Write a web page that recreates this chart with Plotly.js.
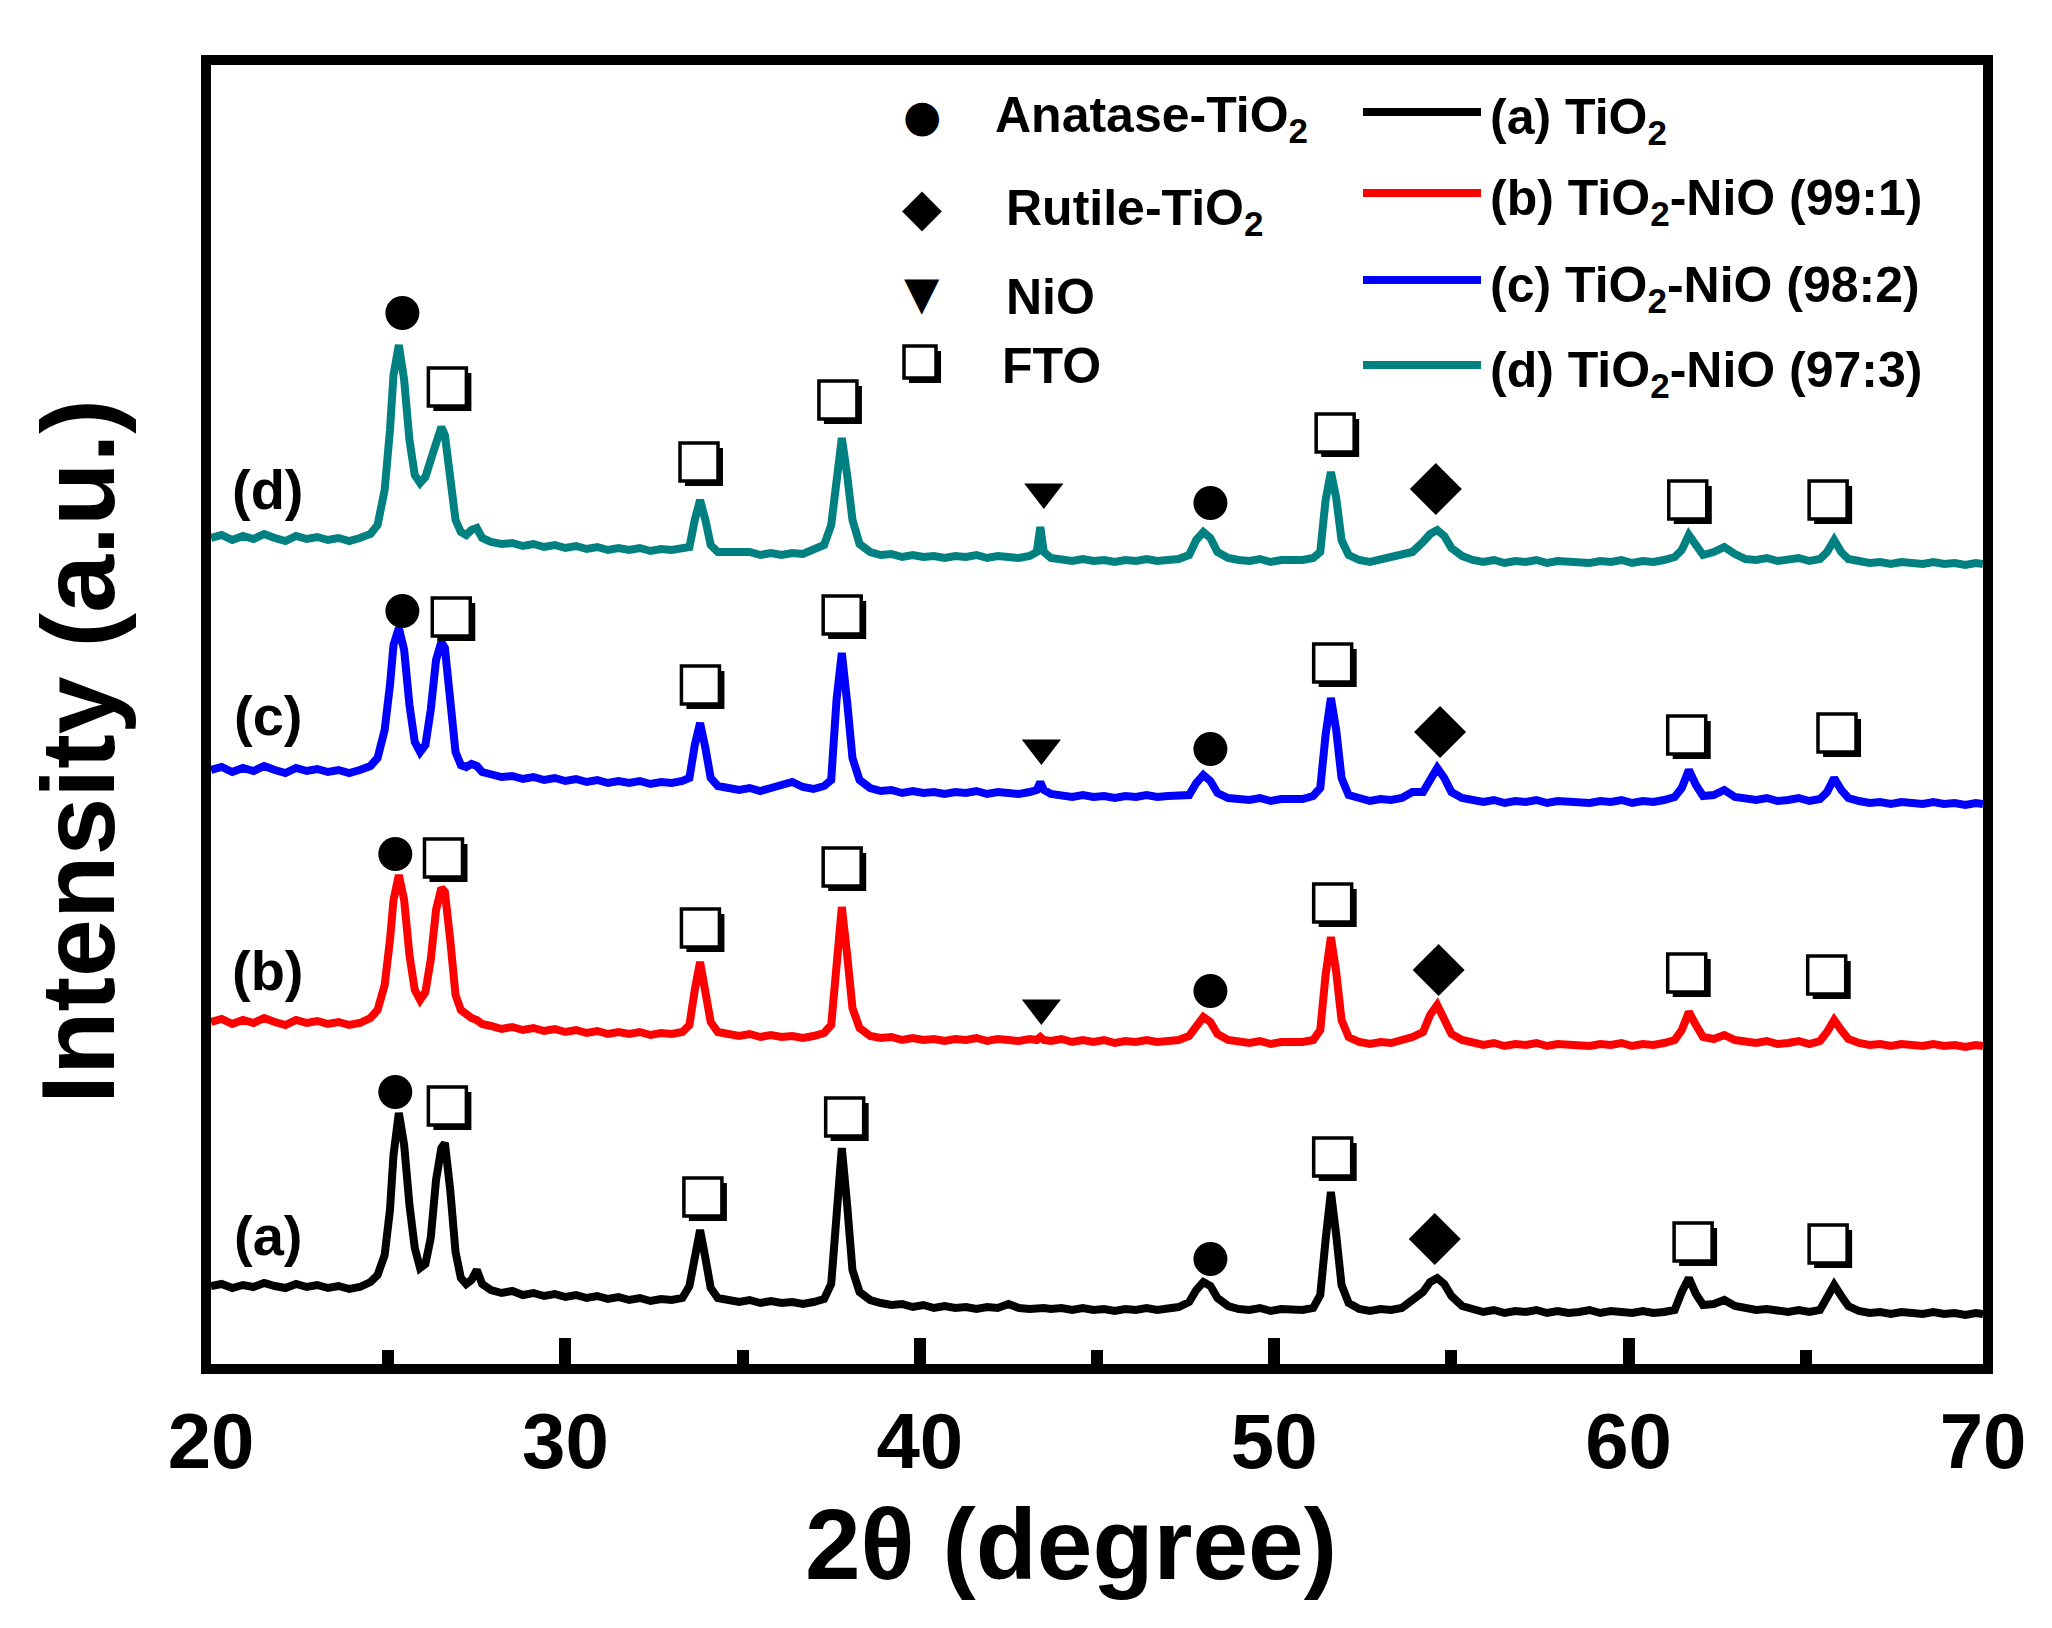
<!DOCTYPE html>
<html>
<head>
<meta charset="utf-8">
<script src="https://cdn.plot.ly/plotly-3.0.1.min.js"></script>
<style>
  html, body { margin: 0; padding: 0; background: #ffffff; }
  #xrdPlot { width: 2052px; height: 1628px; }
</style>
</head>
<body>
<div id="xrdPlot"></div>
<script>
// 2theta grid (degree), denser around the reflections
let twoTheta = [
  20.0, 20.3, 20.6, 20.9, 21.2, 21.5, 21.8, 22.1, 22.4, 22.7, 23.0, 23.3, 23.6, 23.9, 24.2, 24.5,
  24.7, 24.9, 25.05, 25.15, 25.3, 25.45, 25.6, 25.75, 25.9, 26.05, 26.2, 26.35, 26.5, 26.6, 26.75, 26.9, 27.05, 27.2, 27.35, 27.5, 27.65,
  27.9, 28.2, 28.5, 28.8, 29.1, 29.4, 29.7, 30.0, 30.3, 30.6, 30.9, 31.2, 31.5, 31.8, 32.1, 32.4, 32.7, 33.0, 33.3,
  33.5, 33.65, 33.8, 33.95, 34.1, 34.3,
  34.6, 34.9, 35.2, 35.5, 35.8, 36.1, 36.4, 36.7, 37.0, 37.3,
  37.5, 37.65, 37.8, 37.95, 38.1, 38.3,
  38.6, 38.9, 39.2, 39.5, 39.8, 40.1, 40.4, 40.7, 41.0, 41.3, 41.6, 41.9, 42.2, 42.5, 42.8, 43.1,
  43.3, 43.4, 43.5,
  43.7, 44.0, 44.3, 44.6, 44.9, 45.2, 45.5, 45.8, 46.1, 46.4, 46.7, 47.0, 47.3,
  47.6, 47.8, 48.0, 48.2, 48.4, 48.7,
  49.0, 49.3, 49.6, 49.9, 50.2, 50.5, 50.8, 51.1,
  51.3, 51.45, 51.6, 51.75, 51.9, 52.1,
  52.4, 52.7, 53.0, 53.3, 53.6, 53.9,
  54.2, 54.4, 54.6, 54.8, 55.0, 55.3,
  55.6, 55.9, 56.2, 56.5, 56.8, 57.1, 57.4, 57.7, 58.0, 58.3, 58.6, 58.9, 59.2, 59.5, 59.8, 60.1, 60.4, 60.7, 61.0, 61.3,
  61.5, 61.7, 61.9, 62.1,
  62.4, 62.7, 63.0, 63.3, 63.6, 63.9, 64.2, 64.5, 64.8, 65.1, 65.4,
  65.6, 65.8, 66.0, 66.2,
  66.5, 66.8, 67.1, 67.4, 67.7, 68.0, 68.3, 68.6, 68.9, 69.2, 69.5, 69.8, 70.0,
];

// stacked intensities (a.u.)
let int_a = [
  84, 86, 82, 85, 83, 87, 84, 82, 86, 83, 85, 82, 84, 81, 83, 88,
  95, 115, 160, 215, 257, 225, 165, 122, 102, 106, 132, 190, 222, 227, 180, 118, 92, 86, 90, 100, 86,
  80, 77, 79, 75, 77, 74, 76, 73, 75, 72, 74, 71, 73, 70, 72, 69, 71, 70, 72,
  84, 115, 140, 112, 82, 72,
  70, 68, 70, 67, 69, 67, 68, 66, 68, 71,
  86, 160, 222, 165, 100, 78,
  70, 67, 65, 66, 63, 65, 62, 64, 62, 63, 61, 63, 62, 66, 62, 61,
  62, 63, 62,
  61, 62, 60, 62, 60, 61, 59, 61, 60, 62, 60, 61, 63,
  68, 80, 88, 84, 72, 64,
  61, 60, 62, 59, 61, 60, 60, 62,
  75, 130, 178, 135, 85, 67,
  61, 59, 61, 60, 62, 70,
  78, 88, 92, 86, 74, 64,
  60, 58, 60, 57, 59, 58, 60, 57, 59, 57, 58, 60, 57, 59, 58, 57, 59, 57, 58, 60,
  78, 92, 76, 65,
  66, 70, 64, 62, 60, 61, 59, 58, 60, 58, 60,
  72, 85, 74, 64,
  59, 57, 58, 56, 58, 57, 56, 58, 56, 57, 55, 57, 56,
];

let int_b = [
  348, 351, 346, 350, 347, 352, 348, 345, 350, 347, 349, 346, 348, 345, 347, 352,
  360, 385, 430, 470, 495, 470, 415, 380, 370, 378, 410, 460, 482, 478, 430, 375, 360, 355, 352, 350, 346,
  344, 341, 343, 340, 342, 339, 341, 338, 340, 337, 339, 336, 338, 336, 338, 335, 337, 336, 338,
  345, 380, 408, 378, 348, 338,
  336, 334, 336, 333, 335, 333, 334, 332, 334, 337,
  345, 410, 463, 415, 362, 342,
  334, 332, 333, 330, 332, 330, 331, 329, 331, 330, 332, 329, 331, 330, 329, 331,
  330, 333, 330,
  329, 331, 328, 330, 328, 330, 327, 329, 328, 330, 328, 329, 330,
  334, 345, 353, 348, 336, 330,
  328, 327, 329, 326, 328, 327, 328, 330,
  340, 395, 433, 398, 350, 333,
  328, 326, 328, 327, 329, 333,
  338, 355, 365, 352, 336, 330,
  327, 325, 327, 324, 326, 325, 327, 324, 326, 325, 326, 324, 326, 325, 327, 324, 326, 325, 327, 330,
  340, 358, 345, 333,
  331, 335, 330, 328, 327, 329, 326, 327, 329, 326, 329,
  338, 350, 340, 331,
  327, 325, 326, 324, 326, 325, 324, 326, 324, 325, 323, 325, 324,
];

let int_c = [
  600, 603, 598, 602, 599, 604, 600, 597, 602, 599, 601, 598, 600, 597, 600, 604,
  612, 640, 685, 725, 742, 720, 665, 628, 618, 625, 660, 710, 728, 722, 670, 618, 605, 603, 606, 604, 598,
  595, 593, 594, 591, 593, 590, 592, 589, 591, 588, 590, 587, 589, 587, 589, 586, 588, 587, 589,
  592, 625, 647, 622, 592, 584,
  582, 580, 582, 579, 582, 586, 588, 583, 581, 584,
  590, 670, 717, 668, 612, 590,
  582, 579, 580, 577, 579, 577, 578, 576, 578, 577, 579, 576, 578, 577, 576, 578,
  580, 588, 580,
  576, 575, 573, 575, 573, 574, 572, 574, 573, 575, 573, 574, 575,
  575, 587, 595, 589, 577, 572,
  571, 570, 572, 569, 571, 570, 571, 574,
  582, 635, 672, 640, 592, 575,
  571, 569, 571, 570, 572, 578,
  578, 592, 602, 592, 578, 572,
  570, 568, 570, 567, 569, 568, 570, 567, 569, 568, 569, 567, 569, 568, 570, 567, 569, 568, 570, 573,
  582, 600, 585, 574,
  575, 580, 573, 571, 570, 572, 569, 570, 572, 569, 571,
  578, 592, 580, 572,
  569, 567, 568, 566, 568, 567, 566, 568, 566, 567, 565, 567, 566,
];

let int_d = [
  832, 835, 830, 834, 831, 836, 832, 829, 834, 831, 833, 830, 832, 829, 832, 836,
  845, 880, 940, 995, 1025, 990, 930, 895, 887, 893, 910, 925, 943, 935, 890, 850, 838, 835, 840, 842, 832,
  828, 826, 827, 824, 826, 823, 825, 822, 824, 821, 823, 820, 822, 820, 822, 819, 821, 820, 822,
  823, 850, 870, 850, 825, 818,
  818, 816, 818, 815, 817, 815, 817, 816, 820, 825,
  845, 895, 932, 895, 850, 826,
  818, 815, 816, 813, 815, 813, 814, 812, 814, 813, 815, 812, 814, 813, 812, 814,
  818, 843, 818,
  812, 811, 809, 811, 809, 810, 808, 810, 809, 811, 809, 810, 811,
  815, 830, 838, 832, 818, 812,
  810, 809, 811, 808, 810, 809, 810, 812,
  818, 870, 898, 872, 830, 815,
  810, 808, 810, 812, 815, 818,
  828, 836, 840, 834, 822, 814,
  810, 808, 810, 807, 809, 808, 810, 807, 809, 808, 809, 807, 809, 808, 810, 807, 809, 808, 810, 813,
  820, 835, 825, 815,
  818, 823, 816, 811, 810, 812, 809, 810, 812, 809, 811,
  818, 830, 818, 811,
  809, 807, 808, 806, 808, 807, 806, 808, 806, 807, 805, 807, 806,
];

let seriesNames = [
  "(a) TiO<sub>2</sub>",
  "(b) TiO<sub>2</sub>-NiO (99:1)",
  "(c) TiO<sub>2</sub>-NiO (98:2)",
  "(d) TiO<sub>2</sub>-NiO (97:3)",
];
let seriesTags = ["(a)", "(b)", "(c)", "(d)"];
let seriesColors = ["#000000", "#ff0000", "#0000ff", "#008080"];

// phase marks above the reflections
let anatase_x = [25.2, 48.2, 25.2, 48.2, 25.4, 48.2, 25.4, 48.2];
let anatase_y = [278, 111, 516, 379, 759, 621, 1057, 867];

let rutile_x = [54.53, 54.64, 54.68, 54.56];
let rutile_y = [131, 400, 638, 881];

let nio_x = [43.43, 43.43, 43.5];
let nio_y = [362, 622, 878];

let fto_x = [
  26.67, 33.88, 37.88, 51.65, 61.82, 65.63,
  26.56, 33.81, 37.81, 51.65, 61.64, 65.59,
  26.78, 33.81, 37.81, 51.65, 61.64, 65.88,
  26.67, 33.77, 37.69, 51.72, 61.67, 65.63,
];
let fto_y = [
  264, 173, 253, 213, 128, 126,
  512, 442, 503, 467, 397, 395,
  753, 685, 755, 707, 635, 637,
  983, 908, 970, 937, 870, 870,
];

let phaseNames = ["Anatase-TiO<sub>2</sub>", "Rutile-TiO<sub>2</sub>", "NiO", "FTO"];
let phaseGlyphs = ["\u25CF", "\u25C6", "\u25BC"];

var cb_xrdPlot = function () {
  let font = "Liberation Sans, Arial, sans-serif";

  // page pixel -> paper coordinates
  let px = function (x) { return (x - 211) / 1772; };
  let py = function (y) { return (1364 - y) / 1299; };

  let ints = [int_a, int_b, int_c, int_d];
  let data = ints.map(function (yy, i) {
    return {
      x: twoTheta,
      y: yy,
      type: "scatter",
      mode: "lines",
      name: seriesNames[i],
      line: { color: seriesColors[i], width: 8 },
      hoverinfo: "skip",
    };
  });

  data.push({
    x: anatase_x, y: anatase_y, type: "scatter", mode: "markers",
    marker: { symbol: "circle", size: 34, color: "#000000" }, hoverinfo: "skip",
  });
  data.push({
    x: rutile_x, y: rutile_y, type: "scatter", mode: "markers",
    marker: { symbol: "diamond", size: 40, color: "#000000" }, hoverinfo: "skip",
  });
  data.push({
    x: nio_x, y: nio_y, type: "scatter", mode: "markers",
    marker: { symbol: "triangle-down", size: 34, color: "#000000" }, hoverinfo: "skip",
  });

  let annotations = [];
  let shapes = [];

  // shadowed open square (FTO), anchored on data or paper point
  let shadowSquare = function (xref, yref, x, y, h) {
    shapes.push({
      type: "rect", xref: xref, yref: yref, layer: "above",
      xsizemode: "pixel", ysizemode: "pixel", xanchor: x, yanchor: y,
      x0: -h + 5, x1: h + 5, y0: -h - 5, y1: h - 5,
      fillcolor: "#000000", line: { width: 0 },
    });
    shapes.push({
      type: "rect", xref: xref, yref: yref, layer: "above",
      xsizemode: "pixel", ysizemode: "pixel", xanchor: x, yanchor: y,
      x0: -h, x1: h, y0: -h, y1: h,
      fillcolor: "#ffffff", line: { color: "#000000", width: 3.5 },
    });
  };
  fto_x.forEach(function (x, i) {
    shadowSquare("x", "y", x, fto_y[i], 19);
  });

  // series tags on the left
  let tagPix = [1235, 970, 716, 489];
  seriesTags.forEach(function (t, i) {
    annotations.push({
      xref: "paper", yref: "paper", x: px(268), y: py(tagPix[i]),
      xanchor: "center", yanchor: "middle", showarrow: false,
      text: t, font: { family: font, size: 56, weight: "bold", color: "#000000" },
    });
  });

  // phase legend
  let phasePix = [115, 207, 293, 362];
  let phaseGlyphSize = [44, 52, 46];
  let phaseTextX = [993, 1004, 1004, 1000];
  phaseNames.forEach(function (n, i) {
    if (i < 3) {
      annotations.push({
        xref: "paper", yref: "paper", x: px(922), y: py(phasePix[i]),
        xanchor: "center", yanchor: "middle", showarrow: false,
        text: phaseGlyphs[i], font: { family: "DejaVu Sans", size: phaseGlyphSize[i], color: "#000000" },
      });
    } else {
      shadowSquare("paper", "paper", px(920), py(phasePix[i]), 16);
    }
    annotations.push({
      xref: "paper", yref: "paper", x: px(phaseTextX[i]), y: py(phasePix[i] + 4),
      xanchor: "left", yanchor: "middle", showarrow: false,
      text: n, font: { family: font, size: 50, weight: "bold", color: "#000000" },
    });
  });

  // line legend
  let linePix = [112, 193, 280, 365];
  seriesNames.forEach(function (n, i) {
    shapes.push({
      type: "line", xref: "paper", yref: "paper",
      x0: px(1363), x1: px(1481), y0: py(linePix[i]), y1: py(linePix[i]),
      line: { color: seriesColors[i], width: 8 },
    });
    annotations.push({
      xref: "paper", yref: "paper", x: px(1488), y: py(linePix[i] + 8),
      xanchor: "left", yanchor: "middle", showarrow: false,
      text: n, font: { family: font, size: 50, weight: "bold", color: "#000000" },
    });
  });

  // axis titles
  annotations.push({
    xref: "paper", yref: "paper", x: px(1071), y: py(1544),
    xanchor: "center", yanchor: "middle", showarrow: false,
    text: "2\u03B8 (degree)", font: { family: font, size: 100, weight: "bold", color: "#000000" },
  });
  annotations.push({
    xref: "paper", yref: "paper", x: px(78), y: py(752),
    xanchor: "center", yanchor: "middle", showarrow: false, textangle: -90,
    text: "Intensity (a.u.)", font: { family: font, size: 104, weight: "bold", color: "#000000" },
  });

  let layout = {
    width: 2052,
    height: 1628,
    margin: { l: 211, r: 69, t: 65, b: 264, pad: 0 },
    paper_bgcolor: "#ffffff",
    plot_bgcolor: "#ffffff",
    showlegend: false,
    hovermode: false,

    xaxis: {
      range: [20, 70],
      dtick: 10,
      tick0: 20,
      ticks: "inside",
      ticklen: 26,
      tickwidth: 12,
      tickcolor: "#000000",
      minor: { dtick: 5, ticks: "inside", ticklen: 14, tickwidth: 12, tickcolor: "#000000" },
      showline: true,
      linewidth: 10,
      linecolor: "#000000",
      mirror: true,
      showgrid: false,
      zeroline: false,
      tickfont: { family: font, size: 78, weight: "bold", color: "#000000" },
    },
    yaxis: {
      range: [6, 1305],
      showticklabels: false,
      ticks: "",
      showline: true,
      linewidth: 10,
      linecolor: "#000000",
      mirror: true,
      showgrid: false,
      zeroline: false,
    },
    annotations: annotations,
    shapes: shapes,
  };
  // end layout

  let config = { displayModeBar: false, staticPlot: true };

  Plotly.newPlot("xrdPlot", data, layout, config);
};

cb_xrdPlot();
</script>
</body>
</html>
